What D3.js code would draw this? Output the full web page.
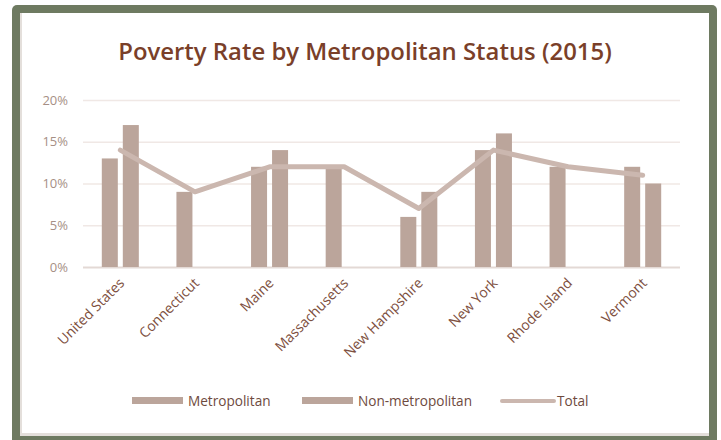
<!DOCTYPE html>
<html>
<head>
<meta charset="utf-8">
<script src="https://cdn.jsdelivr.net/npm/d3@7"></script>
<style>
  html, body { margin: 0; padding: 0; background: #ffffff; }
  svg { display: block; }
  text { font-family: "Open Sans", "Noto Sans", sans-serif; }
</style>
</head>
<body>
<svg id="chart" width="721" height="440"></svg>
<script>
const categories = ["United States", "Connecticut", "Maine", "Massachusetts", "New Hampshire", "New York", "Rhode Island", "Vermont"];
const metropolitan = [13, 9, 12, 12, 6, 14, 12, 12];
const nonMetropolitan = [17, null, 14, null, 9, 16, null, 10];
const total = [14, 9, 12, 12, 7, 14, 12, 11];
const yTicks = [0, 5, 10, 15, 20];
const seriesNames = ["Metropolitan", "Non-metropolitan", "Total"];
const titleText = "Poverty Rate by Metropolitan Status (2015)";

const svg = d3.select("#chart");

// frame
svg.append("rect").attr("x", 12).attr("y", 5).attr("width", 705).attr("height", 445)
  .attr("rx", 5).attr("fill", "#6e7a61");
svg.append("rect").attr("x", 20).attr("y", 13).attr("width", 689).attr("height", 423)
  .attr("fill", "#e4dfdb");
svg.append("rect").attr("x", 22).attr("y", 13).attr("width", 687).attr("height", 420)
  .attr("fill", "#ffffff");

const plot = { left: 83, right: 680, top: 100, bottom: 267 };

const x0 = d3.scaleBand().domain(categories).range([plot.left, plot.right])
  .paddingInner(0.504).paddingOuter(0.252);
const x1 = d3.scaleBand().domain(["m", "n"]).range([0, x0.bandwidth()]).paddingInner(0.238);
const y = d3.scaleLinear().domain([0, 20]).range([plot.bottom, plot.top]);

// gridlines
const yAxis = d3.axisLeft(y).tickValues(yTicks).tickFormat(d => d + "%")
  .tickSize(-(plot.right - plot.left)).tickPadding(15);
const gy = svg.append("g").attr("transform", `translate(${plot.left},0)`).call(yAxis);
gy.select(".domain").remove();
gy.selectAll(".tick line").attr("stroke", d => d === 0 ? "#e3d9d5" : "#f0e8e5").attr("stroke-width", d => d === 0 ? 2 : 1.5);
gy.selectAll(".tick text").attr("fill", "#a68f85").attr("font-size", 13)
  .attr("font-family", "'Open Sans', sans-serif");

// bars
const barColor = "#bba59b";
const rows = categories.map((c, i) => ({ c, m: metropolitan[i], n: nonMetropolitan[i], t: total[i] }));
const gBars = svg.append("g");
rows.forEach(r => {
  [["m", r.m], ["n", r.n]].forEach(([k, v]) => {
    if (v == null) return;
    gBars.append("rect")
      .attr("x", x0(r.c) + x1(k))
      .attr("y", y(v))
      .attr("width", x1.bandwidth())
      .attr("height", y(0) - y(v))
      .attr("fill", barColor);
  });
});

// total line
const line = d3.line().x(d => x0(d.c) + x0.bandwidth() / 2).y(d => y(d.t));
svg.append("path").datum(rows).attr("d", line)
  .attr("fill", "none").attr("stroke", "#cbb7af").attr("stroke-width", 5)
  .attr("stroke-linecap", "round").attr("stroke-linejoin", "round");

// x labels
const gx = svg.append("g").attr("transform", `translate(0,${plot.bottom})`)
  .call(d3.axisBottom(x0).tickSize(0).tickPadding(0));
gx.select(".domain").remove();
gx.selectAll(".tick text")
  .attr("fill", "#7d4f40").attr("font-size", 14)
  .attr("font-family", "'Open Sans', sans-serif")
  .attr("text-anchor", "end")
  .attr("dy", null)
  .attr("transform", "translate(5,17) rotate(-45)");

// title
const title = svg.append("text").attr("x", 365).attr("y", 60)
  .attr("text-anchor", "middle").attr("fill", "#7a3f29")
  .attr("font-weight", 600).attr("font-size", 22).text(titleText);
const tw = title.node().getComputedTextLength();
title.attr("font-size", 22 * 494 / tw);

// legend
const legY = 401;
const legendItems = [
  { name: seriesNames[0], type: "bar", x: 132 },
  { name: seriesNames[1], type: "bar", x: 302 },
  { name: seriesNames[2], type: "line", x: 500 }
];
const gl = svg.append("g");
legendItems.forEach(it => {
  if (it.type === "bar") {
    gl.append("rect").attr("x", it.x).attr("y", legY - 4).attr("width", 51).attr("height", 7).attr("fill", barColor);
    gl.append("text").attr("x", it.x + 56).attr("y", legY + 5).attr("fill", "#6e4a3e").attr("font-size", 13.6).text(it.name);
  } else {
    gl.append("line").attr("x1", it.x + 2).attr("x2", it.x + 54).attr("y1", legY).attr("y2", legY)
      .attr("stroke", "#cbb7af").attr("stroke-width", 4).attr("stroke-linecap", "round");
    gl.append("text").attr("x", it.x + 57).attr("y", legY + 5).attr("fill", "#6e4a3e").attr("font-size", 13.6).text(it.name);
  }
});
</script>
</body>
</html>
